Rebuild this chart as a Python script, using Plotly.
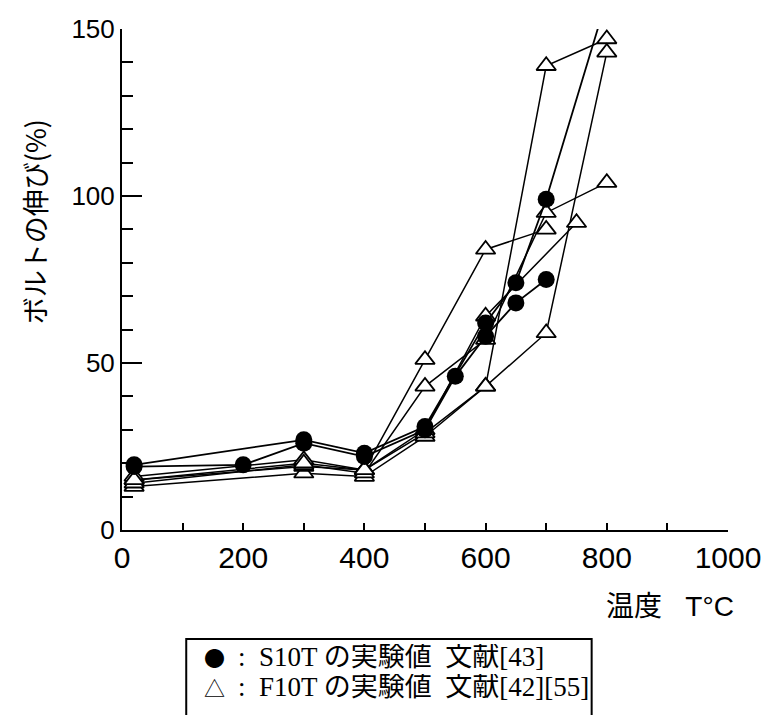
import plotly.graph_objects as go

# S10T (filled circles)
s10t_1_x = [20, 200, 300, 400, 500, 550, 600, 650, 700]
s10t_1_y = [19, 19.5, 26, 22, 30, 46, 58, 68, 75]
s10t_2_x = [20, 300, 400, 500, 600, 650, 700, 800]
s10t_2_y = [19.5, 27, 23, 31, 62, 74, 99, 159]

# F10T (open triangles)
f10t_a_x = [20, 300, 400, 500, 600, 700, 800]
f10t_a_y = [13, 17, 16, 28, 43, 139, 147]
f10t_b_x = [20, 300, 400, 500, 600, 700, 800]
f10t_b_y = [15, 19, 18, 29, 43, 59, 143]
f10t_c_x = [20, 300, 400, 500, 600, 700]
f10t_c_y = [16, 21, 18, 51, 84, 90]
f10t_d_x = [20, 300, 400, 500, 600, 700, 800]
f10t_d_y = [14, 19.5, 17, 43, 57, 95, 104]
f10t_e_x = [20, 300, 400, 500, 600, 750]
f10t_e_y = [15, 20, 18, 30, 64, 92]

x_tick_vals = [0, 200, 400, 600, 800, 1000]
y_tick_vals = [0, 50, 100, 150]

y_title = "ボルトの伸び(%)"
x_title = "温度&#160;&#160;&#160;T°C"
legend_sym1 = "●"
legend_sym2 = "△"
legend_row1 = ":&#160;&#160;S10T の実験値&#160;&#160;文献[43]"
legend_row2 = ":&#160;&#160;F10T の実験値&#160;&#160;文献[42][55]"

fig = go.Figure()

tri_series = [(f10t_a_x, f10t_a_y), (f10t_b_x, f10t_b_y), (f10t_c_x, f10t_c_y),
              (f10t_d_x, f10t_d_y), (f10t_e_x, f10t_e_y)]
for xs, ys in tri_series:
    fig.add_trace(go.Scatter(
        x=xs, y=ys, mode="lines+markers",
        line=dict(color="black", width=1.5),
        marker=dict(symbol="triangle-up", size=17, color="white",
                    line=dict(color="black", width=1.8)),
        showlegend=False, cliponaxis=True))

for xs, ys in [(s10t_1_x, s10t_1_y), (s10t_2_x, s10t_2_y)]:
    fig.add_trace(go.Scatter(
        x=xs, y=ys, mode="lines+markers",
        line=dict(color="black", width=1.8),
        marker=dict(symbol="circle", size=17, color="black"),
        showlegend=False, cliponaxis=True))

xtickfont = dict(family="Liberation Sans, Arial, sans-serif", size=30, color="black")
ytickfont = dict(family="Liberation Sans Narrow, Liberation Sans, Arial, sans-serif", size=26, color="black")

fig.update_xaxes(
    range=[0, 1000], tickvals=x_tick_vals, ticks="inside", ticklen=7, tickwidth=2,
    tickcolor="black", showline=True, linecolor="black", linewidth=2,
    showgrid=False, zeroline=False, tickfont=xtickfont,
    minor=dict(dtick=100, ticks="inside", ticklen=7, tickwidth=2, tickcolor="black", showgrid=False))
fig.update_yaxes(
    range=[0, 150], tickvals=y_tick_vals, ticks="inside", ticklen=20, tickwidth=2,
    tickcolor="black", showline=True, linecolor="black", linewidth=2,
    showgrid=False, zeroline=False, tickfont=ytickfont,
    minor=dict(dtick=10, ticks="inside", ticklen=11, tickwidth=2, tickcolor="black", showgrid=False))

fig.add_annotation(text=y_title, xref="paper", yref="paper", x=-0.143, y=0.615,
                   textangle=-90, showarrow=False, xanchor="center", yanchor="middle",
                   font=dict(family="Noto Sans CJK JP, sans-serif", size=27, color="black"))
fig.add_annotation(text=x_title, xref="paper", yref="paper", x=0.905, y=-0.152,
                   showarrow=False, xanchor="center", yanchor="middle",
                   font=dict(family="Liberation Sans, Noto Sans CJK JP, sans-serif", size=28, color="black"))

legend_font = dict(family="Liberation Serif, Noto Sans CJK JP, serif", size=27, color="black")
sym_font = dict(family="Noto Sans CJK JP, sans-serif", size=21, color="black")
fig.add_annotation(text=legend_sym1, xref="paper", yref="paper", x=0.1531, y=-0.2535,
                   showarrow=False, xanchor="center", yanchor="middle", borderpad=0,
                   font=sym_font)
fig.add_annotation(text=legend_sym2, xref="paper", yref="paper", x=0.1531, y=-0.3134,
                   showarrow=False, xanchor="center", yanchor="middle", borderpad=0,
                   font=sym_font)
fig.add_annotation(text=legend_row1, xref="paper", yref="paper", x=0.189, y=-0.2535,
                   showarrow=False, xanchor="left", yanchor="middle", height=26, borderpad=0,
                   font=legend_font)
fig.add_annotation(text=legend_row2, xref="paper", yref="paper", x=0.189, y=-0.3134,
                   showarrow=False, xanchor="left", yanchor="middle", height=26, borderpad=0,
                   font=legend_font)
fig.add_shape(type="rect", xref="paper", yref="paper", x0=0.106, x1=0.775, y0=-0.45, y1=-0.2176,
              line=dict(color="black", width=2), fillcolor="rgba(0,0,0,0)")

fig.update_layout(
    width=773, height=715, autosize=False,
    margin=dict(l=122, r=37, t=29, b=185),
    paper_bgcolor="white", plot_bgcolor="white",
    showlegend=False)

fig.write_html("out.html")
